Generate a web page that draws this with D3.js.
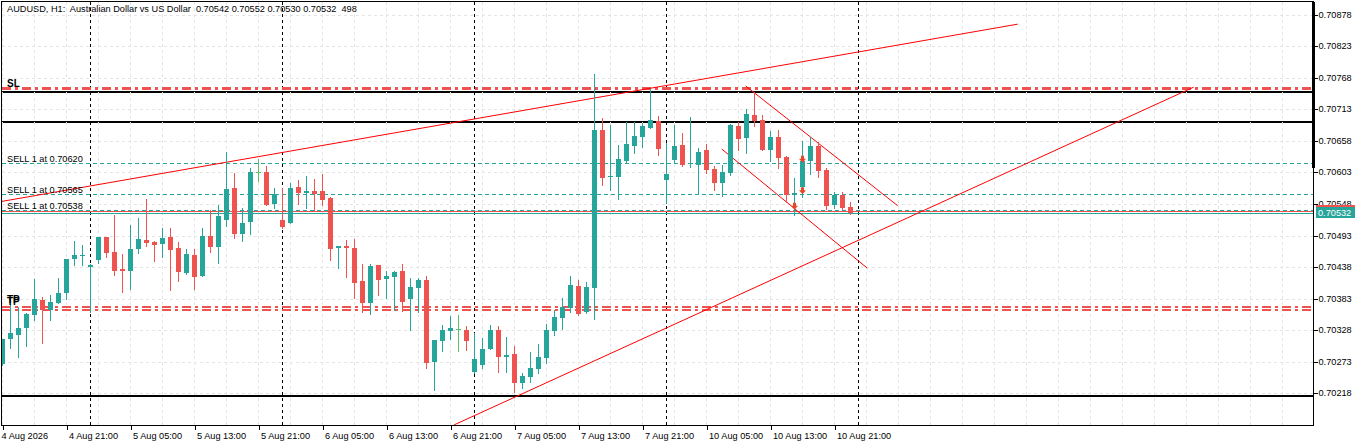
<!DOCTYPE html>
<html>
<head>
<meta charset="utf-8">
<script src="https://cdn.jsdelivr.net/npm/d3@7"></script>
<style>
html,body{margin:0;padding:0;background:#fff;overflow:hidden}
svg{display:block;font-family:"Liberation Sans",Arial,sans-serif}
</style>
</head>
<body>
<svg id="chart" width="1366" height="446"></svg>
<script>
// AUDUSD H1 bars, first bar = 4 Aug 2026 13:00
const opens=[0.70269,0.70312,0.70319,0.70331,0.70354,0.70380,0.70363,0.70375,0.70393,0.70452,
0.70457,0.70438,0.70450,0.70490,0.70464,0.70435,0.70431,0.70469,0.70485,0.70482,
0.70478,0.70490,0.70471,0.70428,0.70459,0.70422,0.70492,0.70473,0.70520,0.70576,
0.70496,0.70517,0.70603,0.70604,0.70548,0.70520,0.70515,0.70578,0.70567,0.70571,
0.70571,0.70558,0.70471,0.70475,0.70471,0.70414,0.70375,0.70441,0.70417,0.70421,
0.70431,0.70382,0.70401,0.70415,0.70272,0.70309,0.70326,0.70329,0.70328,0.70255,
0.70267,0.70295,0.70328,0.70281,0.70286,0.70235,0.70246,0.70260,0.70279,0.70326,
0.70349,0.70366,0.70405,0.70359,0.70401,0.70677,0.70595,0.70595,0.70623,0.70649,
0.70665,0.70681,0.70693,0.70590,0.70625,0.70651,0.70618,0.70616,0.70642,0.70609,
0.70585,0.70602,0.70684,0.70663,0.70703,0.70695,0.70642,0.70665,0.70630,0.70564,
0.70578,0.70623,0.70649,0.70607,0.70546,0.70564,0.70542];
const highs=[0.70312,0.70373,0.70368,0.70358,0.70417,0.70386,0.70389,0.70419,0.70452,0.70483,
0.70476,0.70443,0.70490,0.70490,0.70529,0.70461,0.70511,0.70524,0.70557,0.70483,
0.70506,0.70506,0.70482,0.70469,0.70469,0.70506,0.70538,0.70546,0.70639,0.70602,
0.70541,0.70611,0.70627,0.70614,0.70576,0.70576,0.70585,0.70590,0.70597,0.70592,
0.70600,0.70560,0.70475,0.70485,0.70487,0.70443,0.70443,0.70441,0.70431,0.70431,
0.70443,0.70419,0.70419,0.70422,0.70311,0.70337,0.70352,0.70354,0.70335,0.70323,
0.70314,0.70337,0.70335,0.70316,0.70300,0.70253,0.70290,0.70304,0.70338,0.70363,
0.70384,0.70422,0.70415,0.70412,0.70775,0.70698,0.70686,0.70651,0.70691,0.70691,
0.70689,0.70749,0.70702,0.70655,0.70686,0.70672,0.70700,0.70646,0.70653,0.70614,
0.70616,0.70688,0.70691,0.70714,0.70744,0.70703,0.70675,0.70677,0.70632,0.70593,
0.70658,0.70665,0.70656,0.70611,0.70569,0.70569,0.70552];
const lows=[0.70267,0.70297,0.70281,0.70300,0.70345,0.70305,0.70345,0.70375,0.70382,0.70441,
0.70441,0.70359,0.70445,0.70455,0.70424,0.70394,0.70400,0.70462,0.70475,0.70448,
0.70455,0.70398,0.70414,0.70426,0.70400,0.70422,0.70464,0.70445,0.70510,0.70489,
0.70483,0.70496,0.70588,0.70546,0.70541,0.70506,0.70515,0.70548,0.70541,0.70536,
0.70546,0.70450,0.70436,0.70421,0.70384,0.70359,0.70356,0.70389,0.70384,0.70363,
0.70361,0.70328,0.70359,0.70262,0.70223,0.70291,0.70312,0.70291,0.70293,0.70253,
0.70262,0.70295,0.70255,0.70255,0.70220,0.70227,0.70237,0.70253,0.70270,0.70319,
0.70330,0.70359,0.70354,0.70358,0.70347,0.70581,0.70572,0.70557,0.70620,0.70637,
0.70648,0.70681,0.70634,0.70550,0.70620,0.70614,0.70613,0.70567,0.70602,0.70572,
0.70562,0.70599,0.70642,0.70637,0.70684,0.70642,0.70623,0.70611,0.70551,0.70529,
0.70560,0.70600,0.70595,0.70539,0.70541,0.70539,0.70530];
const closes=[0.70312,0.70323,0.70331,0.70356,0.70382,0.70363,0.70377,0.70393,0.70452,0.70459,
0.70459,0.70441,0.70490,0.70462,0.70431,0.70431,0.70469,0.70487,0.70480,0.70476,
0.70489,0.70468,0.70429,0.70461,0.70421,0.70492,0.70473,0.70527,0.70574,0.70496,
0.70515,0.70604,0.70603,0.70546,0.70565,0.70508,0.70576,0.70567,0.70571,0.70565,
0.70555,0.70469,0.70475,0.70471,0.70410,0.70375,0.70440,0.70415,0.70422,0.70429,
0.70377,0.70403,0.70415,0.70270,0.70311,0.70328,0.70331,0.70329,0.70309,0.70277,
0.70295,0.70328,0.70281,0.70284,0.70235,0.70248,0.70262,0.70281,0.70328,0.70351,
0.70368,0.70407,0.70356,0.70403,0.70677,0.70593,0.70597,0.70627,0.70653,0.70667,
0.70684,0.70695,0.70644,0.70600,0.70649,0.70616,0.70620,0.70639,0.70607,0.70585,
0.70604,0.70686,0.70661,0.70705,0.70693,0.70642,0.70665,0.70628,0.70564,0.70567,
0.70623,0.70649,0.70606,0.70545,0.70564,0.70541,0.70532];

const priceTicks=[0.70878,0.70823,0.70768,0.70713,0.70658,0.70603,0.70548,0.70493,0.70438,0.70383,0.70328,0.70273,0.70218];
const timeTickBars=[0,8,16,24,32,40,48,56,64,72,80,88,96,104];
const timeLabels=["4 Aug 2026","4 Aug 21:00","5 Aug 05:00","5 Aug 13:00","5 Aug 21:00","6 Aug 05:00","6 Aug 13:00",
  "6 Aug 21:00","7 Aug 05:00","7 Aug 13:00","7 Aug 21:00","10 Aug 05:00","10 Aug 13:00","10 Aug 21:00"];
const daySeparatorBars=[11,35,59,83,107];

// horizontal objects
const blackLevels=[0.70743,0.70692,0.70213];
const slLevels=[0.70749];
const tpLevels=[0.70369,0.70363];
const sellPrices=[0.70620,0.70565,0.70538];
const sellBars=[100,100,99];
const bidPrice=0.70532, askPrice=0.70535;

// trendlines: [bar1, price1, bar2, price2]
const trendLines=[
  [-0.3,0.70552,126.9,0.70862],
  [56.4,0.70162,148.9,0.70752],
  [92.9,0.70754,111.9,0.70545],
  [89.9,0.70644,108.1,0.70436]
];

const fontSize="9.2px";
const plotL=2, plotT=2, plotR=1313, plotB=425;
const svg=d3.select("#chart");
const xS=d3.scaleLinear().domain([0,100]).range([2.5,802.5]);
const yS=d3.scaleLinear().domain([0.70218,0.70878]).range([393,15]);
const crisp=v=>Math.round(v)+0.5;

svg.append("defs").append("clipPath").attr("id","plotClip")
  .append("rect").attr("x",plotL).attr("y",plotT).attr("width",plotR-plotL).attr("height",plotB-plotT);

const plot=svg.append("g").attr("clip-path","url(#plotClip)").attr("shape-rendering","crispEdges");

// solid black levels (drawn under grid)
plot.selectAll(".blk").data(blackLevels).enter().append("line")
  .attr("x1",plotL).attr("x2",plotR).attr("y1",d=>Math.round(yS(d))).attr("y2",d=>Math.round(yS(d)))
  .attr("stroke","#000").attr("stroke-width",2);

// grid
const gridBars=d3.range(0,164,4);
plot.selectAll(".gx").data(gridBars).enter().append("line")
  .attr("x1",d=>xS(d)).attr("x2",d=>xS(d)).attr("y1",plotT).attr("y2",plotB)
  .attr("stroke","#e4e4e4").attr("stroke-dasharray","3,3");
plot.selectAll(".gy").data(priceTicks).enter().append("line")
  .attr("x1",plotL).attr("x2",plotR).attr("y1",d=>crisp(yS(d))).attr("y2",d=>crisp(yS(d)))
  .attr("stroke","#e4e4e4").attr("stroke-dasharray","3,3");

// period separators
plot.selectAll(".sep").data(daySeparatorBars).enter().append("line")
  .attr("x1",d=>xS(d)).attr("x2",d=>xS(d)).attr("y1",plotT).attr("y2",plotB)
  .attr("stroke","#000").attr("stroke-dasharray","3,3");

// SL / TP lines
plot.selectAll(".sl").data(slLevels).enter().append("line")
  .attr("x1",plotL).attr("x2",plotR).attr("y1",d=>yS(d)).attr("y2",d=>yS(d))
  .attr("stroke","#ef5350").attr("stroke-width",3).attr("stroke-dasharray","9,4,3,4");
plot.selectAll(".tp").data(tpLevels).enter().append("line")
  .attr("x1",plotL).attr("x2",plotR).attr("y1",d=>yS(d)).attr("y2",d=>yS(d))
  .attr("stroke","#ef5350").attr("stroke-width",(d,k)=>k===0?2:1.5).attr("stroke-dasharray","9,4,3,4");

// open positions
plot.selectAll(".sell").data(sellPrices).enter().append("line")
  .attr("x1",plotL).attr("x2",plotR).attr("y1",d=>crisp(yS(d))).attr("y2",d=>crisp(yS(d)))
  .attr("stroke","#26a69a").attr("stroke-dasharray","4,3");

// ask / bid
plot.append("line").attr("x1",plotL).attr("x2",plotR).attr("y1",crisp(yS(askPrice))).attr("y2",crisp(yS(askPrice)))
  .attr("stroke","#ef5350");
plot.append("line").attr("x1",plotL).attr("x2",plotR).attr("y1",crisp(yS(bidPrice))).attr("y2",crisp(yS(bidPrice)))
  .attr("stroke","#26a69a");

// trendlines
plot.selectAll(".tl").data(trendLines).enter().append("line")
  .attr("x1",d=>xS(d[0])).attr("y1",d=>yS(d[1])).attr("x2",d=>xS(d[2])).attr("y2",d=>yS(d[3]))
  .attr("stroke","#ff0000").attr("stroke-width",1).attr("shape-rendering","auto");

// candles
const bars=d3.range(opens.length);
const colorOf=i=>closes[i]>opens[i]?"#26a69a":(closes[i]<opens[i]?"#ef5350":"#5cbf6e");
const cg=plot.append("g");
cg.selectAll(".wick").data(bars).enter().append("line")
  .attr("x1",i=>xS(i)).attr("x2",i=>xS(i))
  .attr("y1",i=>Math.round(yS(highs[i]))).attr("y2",i=>Math.round(yS(lows[i]))+1)
  .attr("stroke",colorOf);
cg.selectAll(".body").data(bars).enter().append("rect")
  .attr("x",i=>xS(i)-2.5).attr("width",5)
  .attr("y",i=>Math.round(yS(Math.max(opens[i],closes[i]))))
  .attr("height",i=>Math.max(1,Math.round(yS(Math.min(opens[i],closes[i])))-Math.round(yS(Math.max(opens[i],closes[i])))))
  .attr("fill",colorOf);

// sell arrows
plot.selectAll(".arr").data(sellPrices).enter().append("path")
  .attr("transform",(d,k)=>"translate("+xS(sellBars[k])+","+yS(d)+")")
  .attr("d","M-1.5,-7H1.5V-4H3.5L0,0L-3.5,-4H-1.5Z")
  .attr("fill","#e2492b").attr("shape-rendering","auto");

// object labels
const lbl=svg.append("g").attr("font-size",fontSize).attr("fill","#000");
lbl.selectAll(".selltxt").data(sellPrices).enter().append("text")
  .attr("x",7).attr("y",d=>crisp(yS(d))-2)
  .text(d=>"SELL 1 at "+d.toFixed(5));
lbl.append("text").attr("x",7).attr("y",yS(slLevels[0])-2).attr("font-weight","bold").attr("font-size","10px").text("SL");
lbl.append("text").attr("x",7).attr("y",yS(tpLevels[0])-4).attr("font-weight","bold").attr("font-size","10px").text("TP");
lbl.append("text").attr("x",7).attr("y",yS(tpLevels[0])-2).attr("font-weight","bold").attr("font-size","10px").text("TP");

// title
svg.append("text").attr("x",7).attr("y",12).attr("font-size",fontSize).attr("fill","#000")
  .style("white-space","pre")
  .text("AUDUSD, H1:  Australian Dollar vs US Dollar  "+opens[106].toFixed(5)+" "+highs[106].toFixed(5)+" "+lows[106].toFixed(5)+" "+closes[106].toFixed(5)+"  498");

// frame
svg.append("rect").attr("x",1.5).attr("y",1.5).attr("width",plotR-1).attr("height",plotB-1)
  .attr("fill","none").attr("stroke","#000").attr("shape-rendering","crispEdges");
svg.append("rect").attr("x",plotR-1).attr("y",plotT).attr("width",3).attr("height",166).attr("fill","#000");

// price axis
const yAxis=svg.append("g").attr("transform","translate("+(plotR+0.5)+",0)")
  .call(d3.axisRight(yS).tickValues(priceTicks).tickFormat(d3.format(".5f")).tickSize(4).tickPadding(1));
yAxis.select(".domain").remove();
yAxis.selectAll(".tick").attr("transform",d=>"translate(0,"+crisp(yS(d))+")");
yAxis.selectAll("text").attr("font-family","Liberation Sans, Arial, sans-serif").attr("font-size",fontSize).attr("fill","#000");
yAxis.selectAll("line").attr("stroke","#000").attr("shape-rendering","crispEdges");

// time axis
const xAxis=svg.append("g").attr("transform","translate(0,"+(plotB+0.5)+")")
  .call(d3.axisBottom(xS).tickValues(timeTickBars).tickFormat((d,k)=>timeLabels[k]).tickSize(4).tickPadding(2.5));
xAxis.select(".domain").remove();
xAxis.selectAll("text").attr("text-anchor","start").attr("x",(d,k)=>k===0?-1.5:2)
  .attr("font-family","Liberation Sans, Arial, sans-serif").attr("font-size",fontSize).attr("fill","#000");
xAxis.selectAll("line").attr("stroke","#000").attr("shape-rendering","crispEdges");

// current price label
const lab=svg.append("g");
lab.append("rect").attr("x",1316).attr("y",Math.round(yS(askPrice))-6).attr("width",39).attr("height",12).attr("fill","#ef5350");
lab.append("rect").attr("x",1316).attr("y",Math.round(yS(bidPrice))-6).attr("width",39).attr("height",11).attr("fill","#26a69a");
lab.append("text").attr("x",1318).attr("y",Math.round(yS(bidPrice))+3).attr("font-size",fontSize).attr("fill","#fff")
  .text(bidPrice.toFixed(5));
</script>
</body>
</html>
